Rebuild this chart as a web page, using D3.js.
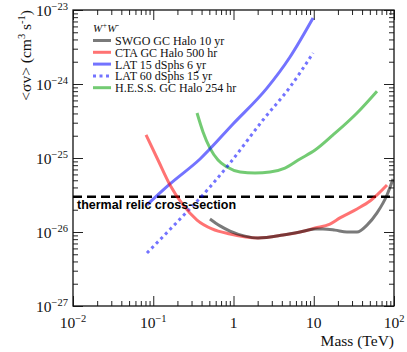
<!DOCTYPE html>
<html>
<head>
<meta charset="utf-8">
<script src="https://cdn.jsdelivr.net/npm/d3@7"></script>
<style>
  body { margin: 0; background: #fff; }
  svg { display: block; }
</style>
</head>
<body>
<div id="chart"></div>
<script>
// mass in TeV, <sigma v> in cm^3 s^-1
let swgoMass = [0.509, 0.679, 0.904, 1.39, 2.02, 4.14, 6.74, 10.4, 13.0, 18.4, 25.9, 34.6, 46.1, 61.4, 81.8, 97.2];
let swgoSigma = [1.50e-26, 1.21e-26, 1.03e-26, 8.8e-27, 8.3e-27, 9.1e-27, 1.0e-26, 1.10e-26, 1.10e-26, 1.06e-26, 1.0e-26, 1.0e-26, 1.24e-26, 1.81e-26, 3.16e-26, 5.2e-26];

let ctaMass = [0.0813, 0.1146, 0.1617, 0.235, 0.351, 0.540, 0.904, 2.02, 4.14, 6.74, 10.4, 15.9, 21.2, 34.6, 50.2, 81.8];
let ctaSigma = [2.05e-25, 9.4e-26, 4.32e-26, 2.32e-26, 1.45e-26, 1.10e-26, 9.4e-27, 8.3e-27, 9.1e-27, 1.0e-26, 1.13e-26, 1.28e-26, 1.55e-26, 2.05e-26, 2.62e-26, 4.32e-26];

let lat6Mass = [0.0835, 0.1617, 0.383, 0.986, 2.61, 5.06, 9.8];
let lat6Sigma = [2.32e-26, 4.46e-26, 9.7e-26, 2.88e-25, 8.8e-25, 2.32e-24, 7.8e-24];

let lat15Mass = [0.0835, 0.198, 0.509, 0.904, 2.33, 5.06, 9.8];
let lat15Sigma = [5.2e-27, 1.36e-26, 4.06e-26, 8.55e-26, 3.26e-25, 9.1e-25, 2.62e-24];

let hessMass = [0.351, 0.417, 0.509, 0.641, 0.830, 1.21, 1.85, 2.85, 4.38, 6.74, 10.4, 17.4, 34.6, 61.4];
let hessSigma = [4.06e-25, 2.25e-25, 1.36e-25, 9.4e-26, 7.55e-26, 6.47e-26, 6.27e-26, 6.47e-26, 7.32e-26, 9.7e-26, 1.28e-25, 2.05e-25, 4.06e-25, 8.0e-25];

let seriesNames = ["SWGO GC Halo 10 yr", "CTA GC Halo 500 hr", "LAT 15 dSphs 6 yr", "LAT 60 dSphs 15 yr", "H.E.S.S. GC Halo 254 hr"];
let thermalRelic = 3e-26;

let xTicks = [0.01, 0.1, 1, 10, 100];
let xTickLabels = [["10", "\u22122"], ["10", "\u22121"], ["1", ""], ["10", ""], ["10", "2"]];
let yTicks = [1e-27, 1e-26, 1e-25, 1e-24, 1e-23];
let yTickLabels = [["10", "\u221227"], ["10", "\u221226"], ["10", "\u221225"], ["10", "\u221224"], ["10", "\u221223"]];

// styles for each series
let series = [
    { name: seriesNames[0], mass: swgoMass, sigma: swgoSigma, color: "rgba(0,0,0,0.52)", dash: null },
    { name: seriesNames[1], mass: ctaMass, sigma: ctaSigma, color: "rgba(255,0,0,0.55)", dash: null },
    { name: seriesNames[2], mass: lat6Mass, sigma: lat6Sigma, color: "rgba(0,0,255,0.55)", dash: null },
    { name: seriesNames[3], mass: lat15Mass, sigma: lat15Sigma, color: "rgba(0,0,255,0.55)", dash: "3,3.5" },
    { name: seriesNames[4], mass: hessMass, sigma: hessSigma, color: "rgba(0,160,0,0.55)", dash: null }
];

let serif = "'Liberation Serif', 'Times New Roman', serif";

let margin = { top: 10, right: 13, bottom: 46, left: 73 },
    frame = { width: 407, height: 352 },
    width = frame.width - margin.left - margin.right,
    height = frame.height - margin.top - margin.bottom;

let x = d3.scaleLog().domain([0.01, 100]).range([0, width]);
let y = d3.scaleLog().domain([1e-27, 1e-23]).range([height, 0]);

// minor ticks 2..9 in each decade
function minorTicks(lo, hi) {
    let out = [];
    for (let d = lo; d < hi; d *= 10) {
        for (let k = 2; k < 10; k++) out.push(d * k);
    }
    return out;
}
let xMinor = minorTicks(0.01, 100);
let yMinor = minorTicks(1e-27, 1e-23);

let svg = d3.select("#chart").append("svg")
    .attr("width", frame.width)
    .attr("height", frame.height);

let g = svg.append("g")
    .attr("transform", "translate(" + margin.left + "," + margin.top + ")");

// tick marks on all four sides, pointing inward
function tickLayer(axis, vals, size, transform) {
    let a = g.append("g")
        .attr("transform", transform)
        .call(axis.tickValues(vals).tickSize(size).tickFormat(""));
    a.select(".domain").remove();
    a.selectAll("line").attr("stroke", "#222").attr("stroke-width", 1);
}
tickLayer(d3.axisBottom(x), xMinor, -5, "translate(0," + height + ")");
tickLayer(d3.axisBottom(x), xTicks, -10, "translate(0," + height + ")");
tickLayer(d3.axisTop(x), xMinor, -5, "translate(0,0)");
tickLayer(d3.axisTop(x), xTicks, -10, "translate(0,0)");
tickLayer(d3.axisLeft(y), yMinor, -5, "translate(0,0)");
tickLayer(d3.axisLeft(y), yTicks, -10, "translate(0,0)");
tickLayer(d3.axisRight(y), yMinor, -5, "translate(" + width + ",0)");
tickLayer(d3.axisRight(y), yTicks, -10, "translate(" + width + ",0)");

// frame
g.append("rect")
    .attr("width", width)
    .attr("height", height)
    .attr("fill", "none")
    .attr("stroke", "#111")
    .attr("stroke-width", 1.3);

// tick labels
xTicks.forEach(function (v, i) {
    let t = g.append("text")
        .attr("font-family", serif)
        .attr("x", x(v))
        .attr("y", height + 22)
        .attr("text-anchor", "middle")
        .attr("font-size", "15.5px")
        .attr("fill", "#111");
    t.append("tspan").text(xTickLabels[i][0]);
    if (xTickLabels[i][1]) {
        t.append("tspan").attr("dy", -6).attr("font-size", "10.5px").text(xTickLabels[i][1]);
    }
});

yTicks.forEach(function (v, i) {
    let t = g.append("text")
        .attr("font-family", serif)
        .attr("x", -5)
        .attr("y", y(v) + 6)
        .attr("text-anchor", "end")
        .attr("font-size", "15.5px")
        .attr("fill", "#111");
    t.append("tspan").text(yTickLabels[i][0]);
    t.append("tspan").attr("dy", -6).attr("font-size", "10.5px").text(yTickLabels[i][1]);
});

// axis titles
svg.append("text")
    .attr("font-family", serif)
    .attr("x", margin.left + width)
    .attr("y", frame.height - 6)
    .attr("text-anchor", "end")
    .attr("font-size", "15.5px")
    .attr("fill", "#111")
    .text("Mass (TeV)");

let yTitle = svg.append("text")
    .attr("font-family", serif)
    .attr("transform", "translate(31," + margin.top + ") rotate(-90)")
    .attr("text-anchor", "end")
    .attr("font-size", "15.5px")
    .attr("fill", "#111");
yTitle.append("tspan").text("<\u03c3v> (cm");
yTitle.append("tspan").attr("dy", -6).attr("font-size", "10.5px").text("3");
yTitle.append("tspan").attr("dy", 6).text(" s");
yTitle.append("tspan").attr("dy", -6).attr("font-size", "10.5px").text("-1");
yTitle.append("tspan").attr("dy", 6).text(")");

// clip curves to the frame
svg.append("defs").append("clipPath").attr("id", "clip")
    .append("rect").attr("width", width).attr("height", height);

let line = d3.line()
    .x(function (d) { return x(d[0]); })
    .y(function (d) { return y(d[1]); })
    .curve(d3.curveMonotoneX);

let curves = g.append("g").attr("clip-path", "url(#clip)");

// thermal relic line
curves.append("path")
    .datum([[0.01, thermalRelic], [100, thermalRelic]])
    .attr("d", line)
    .attr("fill", "none")
    .attr("stroke", "#000")
    .attr("stroke-width", 2.6)
    .attr("stroke-dasharray", "9,5");

// draw in reverse so gray sits on top of red
series.slice().reverse().forEach(function (s) {
    let pts = s.mass.map(function (m, i) { return [m, s.sigma[i]]; });
    curves.append("path")
        .datum(pts)
        .attr("d", line)
        .attr("fill", "none")
        .attr("stroke", s.color)
        .attr("stroke-width", 3)
        .attr("stroke-dasharray", s.dash);
});

g.append("text")
    .attr("x", 4)
    .attr("y", y(thermalRelic) + 12)
    .attr("font-family", "'Liberation Sans', Arial, sans-serif")
    .attr("font-weight", "bold")
    .attr("font-size", "12.5px")
    .attr("fill", "#000")
    .text("thermal relic cross-section");

// legend
let legend = svg.append("g").attr("transform", "translate(93,22)");
let head = legend.append("text")
    .attr("font-family", serif)
    .attr("x", 0)
    .attr("y", 10)
    .attr("font-style", "italic")
    .attr("font-size", "11px")
    .attr("fill", "#111");
head.append("tspan").text("W");
head.append("tspan").attr("dy", -4).attr("font-size", "7.5px").text("+");
head.append("tspan").attr("dy", 4).text("W");
head.append("tspan").attr("dy", -4).attr("font-size", "7.5px").text("-");

series.forEach(function (s, i) {
    let row = legend.append("g").attr("transform", "translate(0," + (18.5 + i * 11.8) + ")");
    row.append("line")
        .attr("x1", 0).attr("x2", 18)
        .attr("stroke", s.color)
        .attr("stroke-width", 3)
        .attr("stroke-dasharray", s.dash);
    row.append("text")
        .attr("font-family", serif)
        .attr("x", 22)
        .attr("y", 4.5)
        .attr("font-size", "12px")
        .attr("fill", "#111")
        .text(s.name);
});
</script>
</body>
</html>
